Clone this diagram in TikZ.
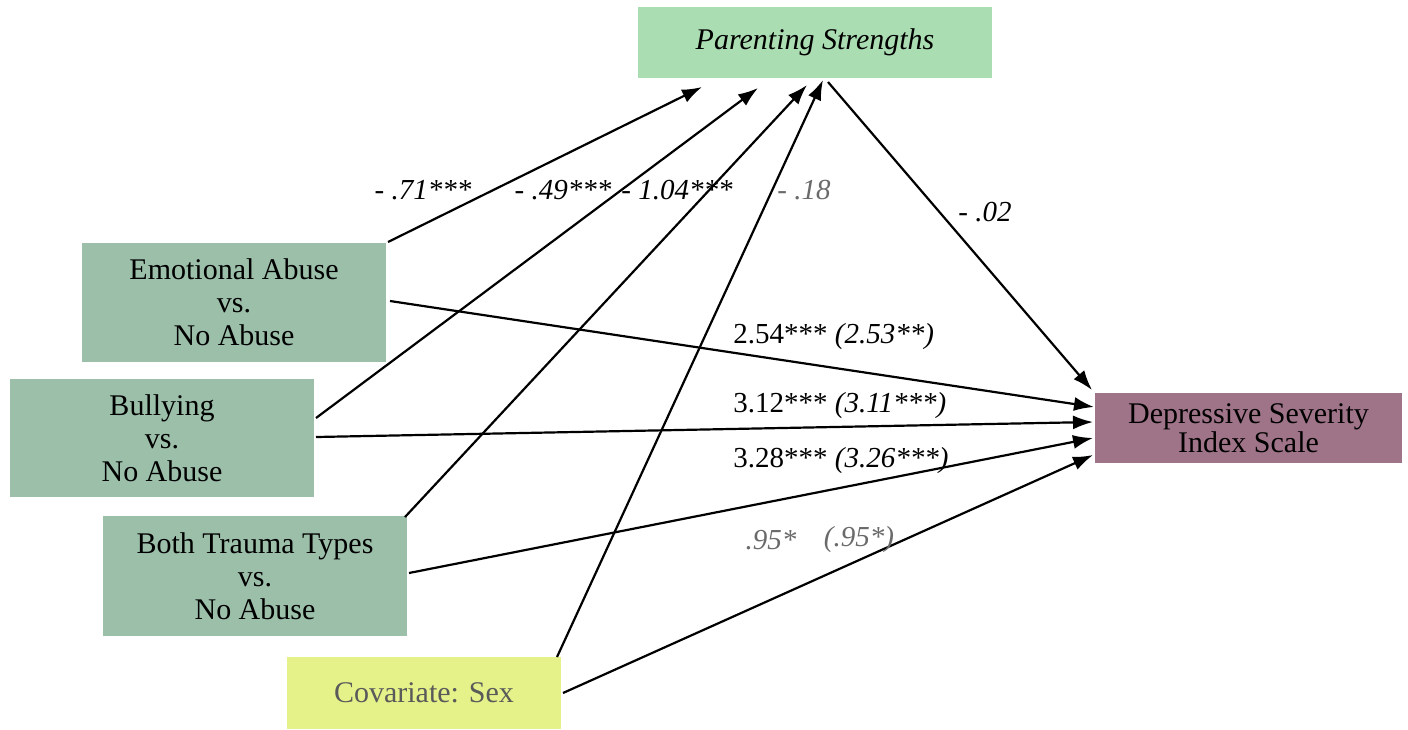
\documentclass[tikz,border=0pt]{standalone}
\usepackage{fontspec}
\setmainfont{Liberation Serif}
\usetikzlibrary{arrows.meta,calc}
\definecolor{psfill}{HTML}{ABDDB2}
\definecolor{abfill}{HTML}{9CBFAA}
\definecolor{cvfill}{HTML}{E5F28A}
\definecolor{dsfill}{HTML}{A07488}
\definecolor{graytext}{HTML}{5A5A5A}
\definecolor{graylab}{HTML}{6A6A6A}
\begin{document}
\begin{tikzpicture}[x=0.5pt,y=-0.5pt,
  box/.style={rectangle,draw=none,align=center,inner sep=0pt,font=\fontsize{15}{16.5}\selectfont},
  lab/.style={inner sep=0pt,font=\fontsize{14.5}{16}\selectfont},
  arr/.style={line width=1.1pt,-{Latex[length=10pt,width=7pt]}}]
\useasboundingbox (0,0) rectangle (1408,729);
% boxes
\node[box,fill=psfill,minimum width=177pt,minimum height=35.5pt] (ps) at (815,42.5) {\itshape Parenting Strengths};
\node[box,fill=abfill,minimum width=152pt,minimum height=59.5pt] (ea) at (234,302.5) {Emotional Abuse\\vs.\\No Abuse};
\node[box,fill=abfill,minimum width=152pt,minimum height=59pt] (bu) at (162,438) {Bullying\\vs.\\No Abuse};
\node[box,fill=abfill,minimum width=152pt,minimum height=60pt] (bt) at (255,576) {Both Trauma Types\\vs.\\No Abuse};
\node[box,fill=cvfill,text=graytext,minimum width=137pt,minimum height=36pt] (cv) at (424,693) {Covariate: Sex};
\node[box,fill=dsfill,minimum width=153.5pt,minimum height=35pt,font=\fontsize{15}{13}\selectfont] (ds) at (1248.5,428) {Depressive Severity\\Index Scale};
% endpoints
\coordinate (s1) at (388,242);
\coordinate (s2) at (316,418);
\coordinate (s3) at (405,517);
\coordinate (s4) at (557,657);
\coordinate (s5) at (828,82);
\coordinate (s6) at (390,301);
\coordinate (s7) at (316,437);
\coordinate (s8) at (409,573);
\coordinate (s9) at (563,693);
\coordinate (t1) at (702,87);
\coordinate (t2) at (758,88);
\coordinate (t3) at (807,85);
\coordinate (t4) at (823,80);
\coordinate (t5) at (1092,390);
\coordinate (t6) at (1094,407);
\coordinate (t7) at (1093,422);
\coordinate (t8) at (1093,438);
\coordinate (t9) at (1093,455);
% arrows
\draw[arr] (s1) -- (t1);
\draw[arr] (s2) -- (t2);
\draw[arr] (s3) -- (t3);
\draw[arr] (s4) -- (t4);
\draw[arr] (s5) -- (t5);
\draw[arr] (s6) -- (t6);
\draw[arr] (s7) -- (t7);
\draw[arr] (s8) -- (t8);
\draw[arr] (s9) -- (t9);
% labels
\node[lab] (l1) at (423,190) {\itshape - .71***};
\node[lab] (l2) at (563,190) {\itshape - .49***};
\node[lab] (l3) at (677,190) {\itshape - 1.04***};
\node[lab,text=graylab] (l4) at (804,190) {\itshape - .18};
\node[lab] (l5) at (985,212) {\itshape - .02};
\node[lab,anchor=west] (l6) at (733,337) {2.54*** \textit{(2.53**)}};
\node[lab,anchor=west] (l7) at (733,406) {3.12*** \textit{(3.11***)}};
\node[lab,anchor=west] (l8) at (733,461) {3.28*** \textit{(3.26***)}};
\node[lab,text=graylab] (l9) at (771,540) {\itshape .95*};
\node[lab,text=graylab] (l10) at (859,540) {\itshape (.95*)};
\end{tikzpicture}
\end{document}
